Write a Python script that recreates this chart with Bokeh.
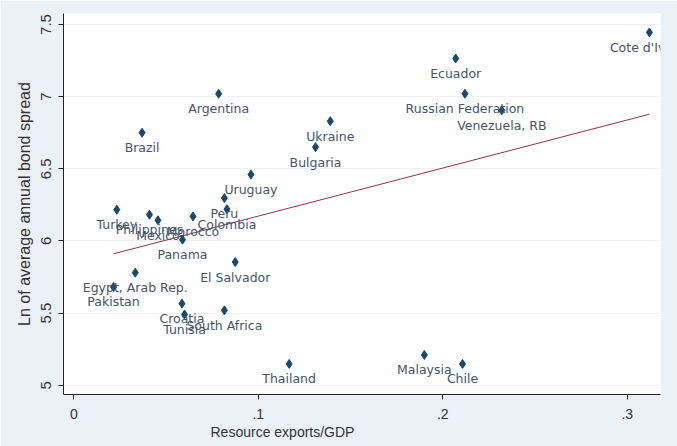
import numpy as np
from bokeh.plotting import figure
from bokeh.models import ColumnDataSource, LabelSet, Range1d, FixedTicker, Title
from bokeh.core.properties import value
from bokeh.embed import file_html
from bokeh.resources import INLINE

countries = ["Cote d'Ivoire", "Ecuador", "Russian Federation", "Venezuela, RB", "Ukraine",
             "Bulgaria", "Argentina", "Brazil", "Uruguay", "Peru", "Colombia", "Turkey",
             "Philippines", "Mexico", "Morocco", "Panama", "El Salvador", "Egypt, Arab Rep.",
             "Pakistan", "Croatia", "Tunisia", "South Africa", "Thailand", "Malaysia", "Chile"]
resource_exports = [0.312, 0.207, 0.212, 0.232, 0.139,
                    0.131, 0.0785, 0.037, 0.096, 0.0816, 0.083, 0.0233,
                    0.041, 0.0456, 0.0646, 0.0589, 0.0875, 0.0333,
                    0.0215, 0.0586, 0.060, 0.0816, 0.1167, 0.190, 0.2107]
ln_spread = [7.445, 7.264, 7.02, 6.905, 6.83,
             6.65, 7.02, 6.75, 6.46, 6.297, 6.22, 6.217,
             6.182, 6.143, 6.17, 6.009, 5.854, 5.78,
             5.681, 5.566, 5.49, 5.519, 5.148, 5.21, 5.148]

x_ticks = [0, 0.1, 0.2, 0.3]
x_tick_labels = ["0", ".1", ".2", ".3"]
y_ticks = [5, 5.5, 6, 6.5, 7, 7.5]
y_tick_labels = ["5", "5.5", "6", "6.5", "7", "7.5"]

bg = "#ecf0f7"
p = figure(width=677, height=446, output_backend="svg", toolbar_location=None,
           x_range=Range1d(-0.0056, 0.318), y_range=Range1d(4.936, 7.576),
           min_border_left=63, min_border_right=17, min_border_top=13, min_border_bottom=52)
p.border_fill_color = bg
p.background_fill_color = "white"
p.outline_line_color = None

p.xgrid.visible = False
p.ygrid.grid_line_color = "#edf1f4"
p.ygrid.ticker = FixedTicker(ticks=y_ticks)

for ax in (p.xaxis[0], p.yaxis[0]):
    ax.axis_line_color = "#222222"
    ax.major_tick_line_color = "#222222"
    ax.major_tick_out = 5
    ax.major_tick_in = 0
    ax.minor_tick_line_color = None
    ax.major_label_text_font = "Liberation Sans"
    ax.major_label_text_color = "#333333"
    ax.axis_label_text_font = "Liberation Sans"
    ax.axis_label_text_font_style = "normal"
    ax.axis_label_text_color = "#333333"

p.xaxis.ticker = FixedTicker(ticks=x_ticks)
p.xaxis.major_label_overrides = {t: l for t, l in zip(x_ticks, x_tick_labels)}
p.xaxis.major_label_text_font_size = "14px"
p.xaxis.major_label_standoff = 9

p.yaxis.ticker = FixedTicker(ticks=y_ticks)
p.yaxis.major_label_overrides = {t: l for t, l in zip(y_ticks, y_tick_labels)}
p.yaxis.major_label_orientation = "vertical"
p.yaxis.major_label_text_font_size = "15px"
p.yaxis.major_label_standoff = 7
p.yaxis.axis_label = "Ln of average annual bond spread"
p.yaxis.axis_label_text_font_size = "16px"
p.yaxis.axis_label_standoff = 6

xt = Title(text="Resource exports/GDP", align="left", offset=147,
           text_font="Liberation Sans", text_font_size="14px", text_font_style="normal",
           text_color="#333333", standoff=0)
p.add_layout(xt, "below")

src = ColumnDataSource(dict(x=resource_exports, y=ln_spread, name=countries))

# linear fit
coef = np.polyfit(resource_exports, ln_spread, 1)
xf = np.array([min(resource_exports), max(resource_exports)])
p.line(xf, np.polyval(coef, xf), line_color="#90353b", line_width=1)

p.scatter("x", "y", source=src, marker="diamond", size=9, fill_color="#1a476f",
          line_color="#1a476f")

labels = LabelSet(x="x", y="y", text="name", source=src, y_offset=-15,
                  text_align="center", text_baseline="middle",
                  text_font=value("DejaVu Sans"), text_font_size=value("12.5px"),
                  text_color=value("#44546a"))
p.add_layout(labels)

open("out.html", "w").write(file_html(p, INLINE))
